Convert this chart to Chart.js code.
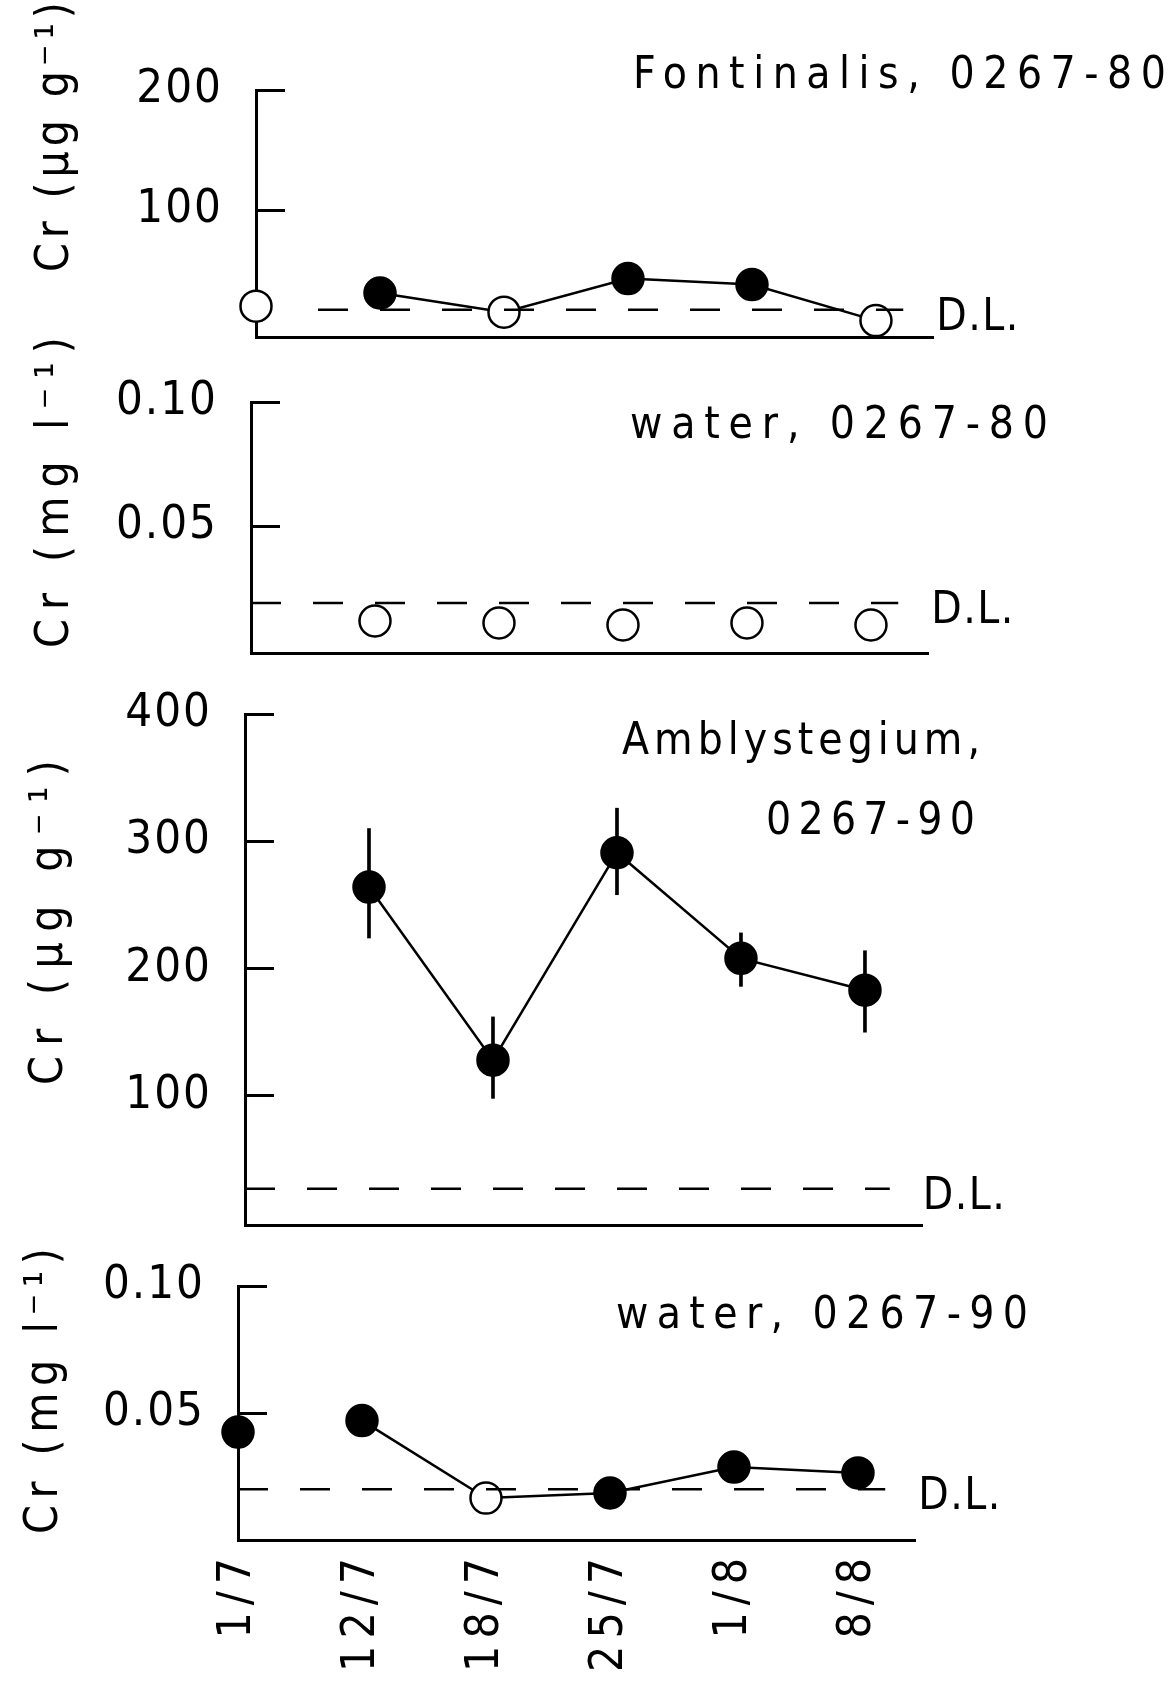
<!DOCTYPE html>
<html>
<head>
<meta charset="utf-8">
<script src="https://cdn.jsdelivr.net/npm/chart.js@4.4.1/dist/chart.umd.min.js"></script>
<style>
  html, body { margin: 0; padding: 0; background: #ffffff; }
  #wrap { position: relative; width: 1176px; height: 1693px; overflow: hidden; background: #ffffff; }
  #wrap canvas { position: absolute; left: 0; top: 0; }
</style>
</head>
<body>
<div id="wrap">
  <canvas id="c1" width="1176" height="1693"></canvas>
  <canvas id="c2" width="1176" height="1693"></canvas>
  <canvas id="c3" width="1176" height="1693"></canvas>
  <canvas id="c4" width="1176" height="1693"></canvas>
</div>
<script>
// ---------------- DATA ----------------
const dates = ['1/7', '12/7', '18/7', '25/7', '1/8', '8/8'];

// Fontinalis, 0267-80  (Cr, µg g-1)
const fontinalisCr      = [20, 31, 15, 43, 38, 8];
const fontinalisBelowDL = [true, false, true, false, false, true];
const fontinalisDL      = 17;
const fontinalisTicks   = [100, 200];
const fontinalisTickLabels = ['100', '200'];

// water, 0267-80  (Cr, mg l-1)
const water80Cr      = [null, 0.0117, 0.0109, 0.0101, 0.0109, 0.0101];
const water80BelowDL = [false, true, true, true, true, true];
const water80DL      = 0.019;
const water80Ticks   = [0.05, 0.10];
const water80TickLabels = ['0.05', '0.10'];

// Amblystegium, 0267-90  (Cr, µg g-1) with error bars
const amblyCr      = [null, 264, 128, 291, 208, 183];
const amblyLow     = [null, 224, 98, 258, 186, 150];
const amblyHigh    = [null, 310, 162, 326, 228, 214];
const amblyBelowDL = [false, false, false, false, false, false];
const amblyDL      = 27;
const amblyTicks   = [100, 200, 300, 400];
const amblyTickLabels = ['100', '200', '300', '400'];

// water, 0267-90  (Cr, mg l-1)
const water90Cr      = [0.0425, 0.047, 0.0165, 0.0185, 0.0287, 0.0264];
const water90BelowDL = [false, false, true, false, false, false];
const water90DL      = 0.020;
const water90Ticks   = [0.05, 0.10];
const water90TickLabels = ['0.05', '0.10'];

// ---------------- STYLE / LAYOUT ----------------
const FONT = "'DejaVu Sans Condensed', 'DejaVu Sans', sans-serif";
const TICK_SIZE = 47;
const X_TICK_SIZE = 46;
const TITLE_FONT = "44px " + FONT;
const YTITLE_FONT = "46px " + FONT;
const PAGE_W = 1176, PAGE_H = 1693;
const X_MAX = 5.46;
const X_SPAN = 677;
const POINT_R = 15.5;
const X_LABEL_SPACING = '7px';
const Y_LABEL_SPACING = '2px';

function spacedText(ctx, text, x, y, width, font) {
  ctx.save();
  ctx.font = font;
  ctx.letterSpacing = '0px';
  const w = ctx.measureText(text).width;
  const n = Array.from(text).length;
  const ls = n > 1 ? (width - w) / (n - 1) : 0;
  ctx.letterSpacing = ls + 'px';
  ctx.fillStyle = '#000';
  ctx.textAlign = 'left';
  ctx.textBaseline = 'alphabetic';
  ctx.fillText(text, x, y);
  ctx.restore();
}

function textPlugin(p) {
  return {
    id: 'panelText',
    // x labels are drawn before the datasets (z 0), y labels after them (z 1)
    beforeDraw(chart) { chart.ctx.letterSpacing = X_LABEL_SPACING; },
    afterDatasetsDraw(chart) { chart.ctx.letterSpacing = Y_LABEL_SPACING; },
    afterDraw(chart) {
      const ctx = chart.ctx;
      p.titles.forEach(t => spacedText(ctx, t.text, t.x, t.y, t.w, TITLE_FONT));
      ctx.save();
      ctx.translate(p.yTitle.x, p.yTitle.y);
      ctx.rotate(-Math.PI / 2);
      spacedText(ctx, p.yTitle.text, 0, 0, p.yTitle.w, YTITLE_FONT);
      ctx.restore();
      const xs = chart.scales.x, ys = chart.scales.y;
      spacedText(ctx, 'D.L.', xs.getPixelForValue(p.dlTo) + 33, ys.getPixelForValue(p.dl) + 20, 82, TITLE_FONT);
    }
  };
}

function makePanel(id, p) {
  const datasets = [];
  datasets.push({
    type: 'line',
    label: 'D.L.',
    data: [{ x: p.dlFrom, y: p.dl }, { x: p.dlTo, y: p.dl }],
    borderColor: '#000', borderWidth: 2.5, borderDash: [30, 32],
    pointRadius: 0, order: 0, clip: false
  });
  datasets.push({
    type: 'line',
    label: p.name,
    data: p.values.map((v, i) => ({ x: i, y: v })),
    showLine: p.showLine,
    borderColor: '#000', borderWidth: 2.5,
    pointRadius: POINT_R, pointHoverRadius: POINT_R, pointBorderWidth: 2.5,
    pointBorderColor: '#000',
    pointBackgroundColor: p.below.map(b => b ? '#ffffff' : '#000000'),
    segment: {
      borderColor: c => (p.isolatedFirst && c.p0DataIndex === 0) ? 'rgba(0,0,0,0)' : '#000'
    },
    spanGaps: false, order: 1, clip: false
  });
  if (p.low) {
    datasets.push({
      type: 'bar',
      label: 'range',
      data: p.low.map((lo, i) => ({ x: i, y: [lo, p.high[i]] })).filter(d => d.y[0] !== null),
      backgroundColor: '#000', borderWidth: 0, barThickness: 3,
      grouped: false, order: 2, clip: false
    });
  }

  const xTicks = p.showDates ? {
    display: true, color: '#000', font: { family: FONT, size: X_TICK_SIZE },
    minRotation: 90, maxRotation: 90, autoSkip: false, padding: 11, z: 0,
    callback: (v, i) => dates[i]
  } : { display: false };

  return new Chart(document.getElementById(id), {
    type: 'line',
    data: { datasets },
    plugins: [textPlugin(p)],
    options: {
      responsive: false,
      devicePixelRatio: 1,
      animation: false,
      events: [],
      layout: {
        padding: {
          left: 0,
          top: p.top,
          right: PAGE_W - p.axisX - X_SPAN,
          bottom: PAGE_H - p.bottom - p.xHeight
        }
      },
      plugins: { legend: { display: false }, tooltip: { enabled: false } },
      scales: {
        x: {
          type: 'linear', min: 0, max: X_MAX, offset: false,
          grid: { display: false, drawTicks: false, offset: false },
          border: { display: true, width: 3, color: '#000' },
          ticks: xTicks,
          afterBuildTicks: s => { s.ticks = dates.map((d, i) => ({ value: i })); },
          afterFit: s => { s.height = p.xHeight; }
        },
        y: {
          type: 'linear', min: p.yMin, max: p.yMax,
          grid: { display: true, drawOnChartArea: false, drawTicks: true, tickLength: -29, lineWidth: 3, color: '#000' },
          border: { display: true, width: 3, color: '#000' },
          ticks: {
            color: '#000', font: { family: FONT, size: TICK_SIZE }, padding: 62, z: 1,
            callback: (v, i) => p.tickLabels[i]
          },
          afterBuildTicks: s => { s.ticks = p.ticks.map(v => ({ value: v })); },
          afterFit: s => { s.width = p.axisX; }
        }
      }
    }
  });
}

makePanel('c1', {
  name: 'Fontinalis, 0267-80',
  values: fontinalisCr, below: fontinalisBelowDL, dl: fontinalisDL,
  ticks: fontinalisTicks, tickLabels: fontinalisTickLabels,
  showLine: true, isolatedFirst: true,
  yMin: -6.5, yMax: 200, axisX: 256, top: 84, bottom: 338, xHeight: 0,
  dlFrom: 0.5, dlTo: 5.22,
  titles: [{ text: 'Fontinalis, 0267-80', x: 633, y: 88, w: 533 }],
  yTitle: { text: 'Cr (µg g⁻¹)', x: 68, y: 272, w: 270 }
});

makePanel('c2', {
  name: 'water, 0267-80',
  values: water80Cr, below: water80BelowDL, dl: water80DL,
  ticks: water80Ticks, tickLabels: water80TickLabels,
  showLine: false, isolatedFirst: false,
  yMin: -0.0012, yMax: 0.10, axisX: 251, top: 402, bottom: 653, xHeight: 0,
  dlFrom: 0, dlTo: 5.22,
  titles: [{ text: 'water, 0267-80', x: 630, y: 438, w: 418 }],
  yTitle: { text: 'Cr (mg l⁻¹)', x: 68, y: 648, w: 311 }
});

makePanel('c3', {
  name: 'Amblystegium, 0267-90',
  values: amblyCr, below: amblyBelowDL, dl: amblyDL, low: amblyLow, high: amblyHigh,
  ticks: amblyTicks, tickLabels: amblyTickLabels,
  showLine: true, isolatedFirst: false,
  yMin: -1.5, yMax: 400, axisX: 245, top: 714, bottom: 1225, xHeight: 0,
  dlFrom: 0, dlTo: 5.2,
  titles: [{ text: 'Amblystegium,', x: 622, y: 754, w: 358 }, { text: '0267-90', x: 766, y: 834, w: 209 }],
  yTitle: { text: 'Cr (µg g⁻¹)', x: 62, y: 1085, w: 325 }
});

makePanel('c4', {
  name: 'water, 0267-90',
  values: water90Cr, below: water90BelowDL, dl: water90DL,
  ticks: water90Ticks, tickLabels: water90TickLabels,
  showLine: true, isolatedFirst: true, showDates: true,
  yMin: 0, yMax: 0.10, axisX: 238, top: 1286, bottom: 1540, xHeight: 150,
  dlFrom: 0, dlTo: 5.22,
  titles: [{ text: 'water, 0267-90', x: 616, y: 1328, w: 412 }],
  yTitle: { text: 'Cr (mg l⁻¹)', x: 57, y: 1534, w: 286 }
});
</script>
</body>
</html>
